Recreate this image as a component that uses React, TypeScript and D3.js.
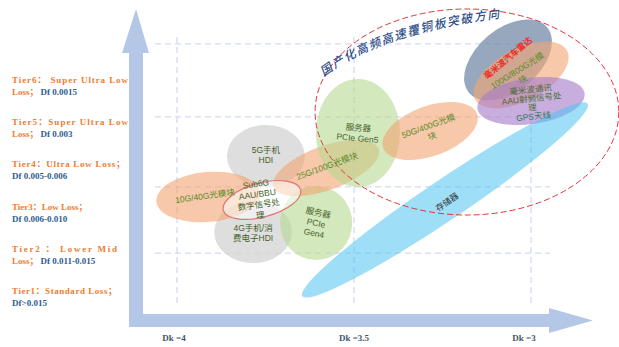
import React from 'react';
import * as d3 from 'd3';

const W = 619;
const H = 347;

// ---- axis / grid values ----
const dkTicks = [4, 3.5, 3];
const dkTickLabels = ['Dk =4', 'Dk =3.5', 'Dk =3'];
const gridTiers = [7.0, 5.27, 3.61, 2.04];

// ---- tier labels (left side) ----
const tierNums = [6, 5, 4, 3, 2, 1];
const tierLine1 = [
  'Tier6：  Super Ultra Low',
  'Tier5：Super Ultra Low',
  'Tier4：Ultra Low Loss；',
  'Tier3：Low Loss；',
  'Tier2 ： Lower Mid',
  'Tier1：Standard Loss；',
];
const tierLine2Prefix = ['Loss；', 'Loss；', '', '', 'Loss；', ''];
const tierDf = ['Df 0.0015', 'Df 0.003', 'Df 0.005-0.006', 'Df 0.006-0.010', 'Df 0.011-0.015', 'Df>0.015'];
const tierJustifyWidth = [116, 116, 113, 0, 105, 105];

// ---- application bubbles (Dk center, tier center, half-extent in Dk, half-extent in tiers, tilt) ----
const bubbles = [
  { name: '5G手机HDI', dk: 3.749, tier: 4.341, rdk: 0.110, rt: 0.735, tilt: 0, kind: 'gray' },
  { name: '4G手机/消费电子HDI', dk: 3.785, tier: 2.54, rdk: 0.110, rt: 0.735, tilt: 0, kind: 'gray' },
  { name: '10G/40G光模块', dk: 3.912, tier: 3.37, rdk: 0.147, rt: 0.592, tilt: -5, kind: 'orange' },
  { name: '服务器PCIe Gen4', dk: 3.607, tier: 2.754, rdk: 0.102, rt: 0.877, tilt: 0, kind: 'green' },
  { name: '25G/100G光模块', dk: 3.579, tier: 4.057, rdk: 0.158, rt: 0.521, tilt: -20, kind: 'orange' },
  { name: '服务器PCIe Gen5', dk: 3.489, tier: 4.886, rdk: 0.119, rt: 1.28, tilt: 0, kind: 'green' },
  { name: '50G/400G光模块', dk: 3.285, tier: 4.934, rdk: 0.141, rt: 0.592, tilt: -20, kind: 'orange' },
  { name: '毫米波汽车雷达', dk: 3.065, tier: 6.616, rdk: 0.144, rt: 0.74, tilt: -40, kind: 'slate' },
  { name: '100G/800G光模块', dk: 3.028, tier: 6.261, rdk: 0.147, rt: 0.616, tilt: -28, kind: 'orange' },
  { name: '毫米波通讯AAU射频信号处理GPS天线', dk: 3.0, tier: 5.645, rdk: 0.153, rt: 0.545, tilt: -8, kind: 'purple' },
  { name: '存储器', dk: 3.243, tier: 3.299, rdk: 0.486, rt: 0.474, tilt: -34, kind: 'blue' },
];

const sub6g = { dk: 3.76, tier: 3.299, rdk: 0.113, rt: 0.403, tilt: -15 };
const breakthrough = { dk: 3.181, tier: 5.384, rdk: 0.429, rt: 2.441 };

// ---- labels inside bubbles ----
const labels = [
  { lines: ['10G/40G光模块'], dk: 3.921, tier: 3.393, tilt: -8, kind: 'bright' },
  { lines: ['5G手机', 'HDI'], dk: 3.749, tier: 4.365, tilt: 0, kind: 'dark' },
  { lines: ['Sub6G', 'AAU/BBU', '数字信号处', '理'], dk: 3.771, tier: 3.31, tilt: -8, kind: 'dark' },
  { lines: ['4G手机/消', '费电子HDI'], dk: 3.785, tier: 2.517, tilt: 0, kind: 'dark' },
  { lines: ['服务器', 'PCIe', 'Gen4'], dk: 3.607, tier: 2.754, tilt: 12, kind: 'dark' },
  { lines: ['25G/100G光模块'], dk: 3.576, tier: 4.104, tilt: -20, kind: 'bright' },
  { lines: ['服务器', 'PCIe Gen5'], dk: 3.489, tier: 4.886, tilt: 5, kind: 'dark' },
  { lines: ['50G/400G光模', '块'], dk: 3.285, tier: 4.934, tilt: -20, kind: 'bright' },
  { lines: ['存储器'], dk: 3.237, tier: 3.251, tilt: -35, kind: 'black' },
  { lines: ['毫米波汽车雷达'], dk: 3.065, tier: 6.664, tilt: -40, kind: 'red' },
  { lines: ['100G/800G光模', '块'], dk: 3.031, tier: 6.261, tilt: -32, kind: 'bright' },
  { lines: ['毫米波通讯', 'AAU射频信号处', '理', 'GPS天线'], dk: 2.997, tier: 5.597, tilt: -6, kind: 'purpleText' },
];

const titleText = '国产化高频高速覆铜板突破方向';
const titleCurve = [
  [3.59, 6.284],
  [3.427, 7.327],
  [3.073, 7.706],
];

// ---- styles ----
const fills: Record<string, [string, number]> = {
  gray: ['#d6d6d6', 0.8],
  orange: ['#f2a674', 0.62],
  green: ['#b5d98f', 0.6],
  slate: ['#7a8eab', 0.78],
  purple: ['#a77ccc', 0.62],
  blue: ['#4fc3f1', 0.55],
};
const textColors: Record<string, string> = {
  bright: '#5a8a2c',
  dark: '#44602a',
  black: '#333333',
  red: '#ee2a24',
  purpleText: '#4a7030',
};

const x = d3.scaleLinear().domain([4, 3]).range([177, 531]);
const y = d3.scaleLinear().domain([1, 6]).range([297, 86]);

const rxOf = (dk: number, r: number) => Math.abs(x(dk + r) - x(dk));
const ryOf = (t: number, r: number) => Math.abs(y(t + r) - y(t));

export default function App() {
  const arrowColor = '#b4c7e7';
  const vx0 = 129, vx1 = 143;
  const hy0 = 314, hy1 = 327;
  const arrow = [
    [vx0, hy1],
    [vx0, 53],
    [122, 53],
    [136, 9],
    [149, 53],
    [vx1, 53],
    [vx1, hy0],
    [549, hy0],
    [549, 308],
    [593, 320.5],
    [549, 333],
    [549, hy1],
  ];

  const p = d3.path();
  p.moveTo(x(titleCurve[0][0]), y(titleCurve[0][1]));
  p.quadraticCurveTo(
    x(titleCurve[1][0]), y(titleCurve[1][1]),
    x(titleCurve[2][0]), y(titleCurve[2][1])
  );

  const sansFont = '"Liberation Sans", "Noto Sans CJK SC", sans-serif';
  const serifFont = '"Liberation Serif", "Noto Sans CJK SC", serif';

  return (
    <svg width={W} height={H} style={{ position: 'absolute', left: 0, top: 0, background: '#fff' }}>
      {/* grid */}
      {gridTiers.map((t, i) => (
        <line key={'h' + i} x1={155} x2={550} y1={y(t)} y2={y(t)}
          stroke="#d3dbf0" strokeWidth={1.3} strokeDasharray="6,4" />
      ))}
      {dkTicks.map((d, i) => (
        <line key={'v' + i} x1={x(d)} x2={x(d)} y1={37} y2={303}
          stroke="#d3dbf0" strokeWidth={1.3} strokeDasharray="6,4" />
      ))}

      {/* bubbles */}
      {bubbles.map((b, i) => (
        <ellipse key={i} cx={0} cy={0} rx={rxOf(b.dk, b.rdk)} ry={ryOf(b.tier, b.rt)}
          transform={`translate(${x(b.dk)},${y(b.tier)}) rotate(${b.tilt})`}
          fill={fills[b.kind][0]} fillOpacity={fills[b.kind][1]} />
      ))}

      {/* Sub6G highlight */}
      <ellipse cx={0} cy={0} rx={rxOf(sub6g.dk, sub6g.rdk)} ry={ryOf(sub6g.tier, sub6g.rt)}
        transform={`translate(${x(sub6g.dk)},${y(sub6g.tier)}) rotate(${sub6g.tilt})`}
        fill="#ffffff" fillOpacity={0.55} stroke="#e07474" strokeWidth={1.2} />

      {/* breakthrough area */}
      <ellipse cx={x(breakthrough.dk)} cy={y(breakthrough.tier)}
        rx={rxOf(breakthrough.dk, breakthrough.rdk)} ry={ryOf(breakthrough.tier, breakthrough.rt)}
        fill="none" stroke="#e0353a" strokeWidth={1} strokeDasharray="6,3" />

      {/* bubble labels */}
      {labels.map((l, i) => {
        const lh = l.kind === 'purpleText' ? 9 : 10.5;
        const n = l.lines.length;
        return (
          <g key={i} transform={`translate(${x(l.dk)},${y(l.tier)}) rotate(${l.tilt})`}>
            {l.lines.map((s, j) => (
              <text key={j} x={0} y={(j - (n - 1) / 2) * lh} dy="0.35em" textAnchor="middle"
                fontFamily={sansFont} fontSize={8.5}
                fontWeight={l.kind === 'red' ? 700 : 400}
                fill={l.kind === 'purpleText' && s === 'GPS天线' ? '#2f7a5c' : textColors[l.kind]}>
                {s}
              </text>
            ))}
          </g>
        );
      })}

      {/* title along curve */}
      <path id="titleCurve" d={p.toString()} fill="none" stroke="none" />
      <text fontFamily='"Noto Sans CJK SC", sans-serif' fontSize={12} fontStyle="italic" fontWeight={500}
        fill="#2f4f8a" letterSpacing={1.6} dominantBaseline="middle">
        <textPath href="#titleCurve" startOffset="0">{titleText}</textPath>
      </text>

      {/* axes arrows */}
      <polygon points={arrow.map((q) => q.join(',')).join(' ')} fill={arrowColor} />

      {/* x tick labels */}
      {dkTicks.map((d, i) => (
        <text key={'xl' + i} x={x(d) - (i === 2 ? 7 : i === 0 ? 3 : 0)} y={341} textAnchor="middle"
          fontFamily={serifFont} fontWeight={700} fontSize={9} fill="#44546a">
          {dkTickLabels[i]}
        </text>
      ))}

      {/* tier labels */}
      {tierNums.map((t, i) => (
        <g key={'t' + i}>
          <text x={12} y={y(t) - 3} fontFamily={serifFont} fontWeight={700} fontSize={9} fill="#ed7d31"
            {...(tierJustifyWidth[i] ? { textLength: tierJustifyWidth[i], lengthAdjust: 'spacing' } : {})}>
            {tierLine1[i]}
          </text>
          <text x={12} y={y(t) + 9} fontFamily={serifFont} fontWeight={700} fontSize={9}>
            {tierLine2Prefix[i] ? <tspan fill="#ed7d31">{tierLine2Prefix[i]}</tspan> : null}
            <tspan fill="#2f5d8f" dx={tierLine2Prefix[i] ? 2 : 0}>{tierDf[i]}</tspan>
          </text>
        </g>
      ))}
    </svg>
  );
}
